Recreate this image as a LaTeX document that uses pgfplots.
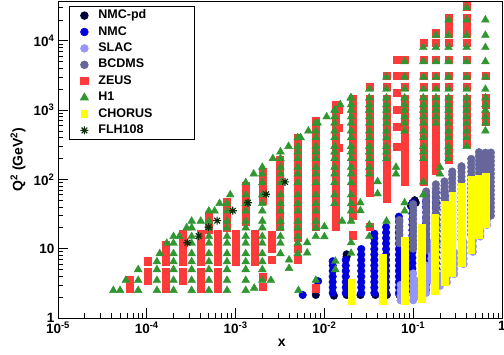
\documentclass[border=0pt]{standalone}
\usepackage{fontspec}
\setmainfont{Liberation Sans}
\usepackage{pgfplots}
\pgfplotsset{compat=1.18}
\definecolor{nmcpd}{RGB}{0,0,60}
\definecolor{nmc}{RGB}{0,0,220}
\definecolor{slac}{RGB}{150,150,250}
\definecolor{bcdms}{RGB}{102,102,155}
\definecolor{zeus}{RGB}{255,58,58}
\definecolor{hone}{RGB}{48,150,48}
\definecolor{chorus}{RGB}{255,255,0}
\definecolor{flh}{RGB}{10,45,10}
\pgfdeclareplotmark{star8}{%
 \pgfpathmoveto{\pgfqpoint{-\pgfplotmarksize}{0pt}}\pgfpathlineto{\pgfqpoint{\pgfplotmarksize}{0pt}}%
 \pgfpathmoveto{\pgfqpoint{0pt}{-\pgfplotmarksize}}\pgfpathlineto{\pgfqpoint{0pt}{\pgfplotmarksize}}%
 \pgfpathmoveto{\pgfqpoint{-0.707\pgfplotmarksize}{-0.707\pgfplotmarksize}}\pgfpathlineto{\pgfqpoint{0.707\pgfplotmarksize}{0.707\pgfplotmarksize}}%
 \pgfpathmoveto{\pgfqpoint{-0.707\pgfplotmarksize}{0.707\pgfplotmarksize}}\pgfpathlineto{\pgfqpoint{0.707\pgfplotmarksize}{-0.707\pgfplotmarksize}}%
 \pgfusepathqstroke}
\begin{document}
\begin{tikzpicture}
\begin{axis}[
 scale only axis, width=444bp, height=317bp,
 xmode=log, ymode=log,
 xmin=1e-5, xmax=1, ymin=1, ymax=37500,
 axis line style={line width=0.8bp},
 every tick/.style={black, line width=0.8bp},
 tick align=inside, tick pos=left,
 major tick length=10bp, minor tick length=5bp,
 xtick={1e-5,1e-4,1e-3,1e-2,1e-1,1},
 xticklabels={10\textsuperscript{-5},10\textsuperscript{-4},10\textsuperscript{-3},10\textsuperscript{-2},10\textsuperscript{-1},1},
 minor xtick={2e-5,3e-5,4e-5,5e-5,6e-5,7e-5,8e-5,9e-5,2e-4,3e-4,4e-4,5e-4,6e-4,7e-4,8e-4,9e-4,2e-3,3e-3,4e-3,5e-3,6e-3,7e-3,8e-3,9e-3,0.02,0.03,0.04,0.05,0.06,0.07,0.08,0.09,0.2,0.3,0.4,0.5,0.6,0.7,0.8,0.9},
 ytick={1,10,100,1000,10000},
 yticklabels={1,10,10\textsuperscript{2},10\textsuperscript{3},10\textsuperscript{4}},
 minor ytick={2,3,4,5,6,7,8,9,20,30,40,50,60,70,80,90,200,300,400,500,600,700,800,900,2000,3000,4000,5000,6000,7000,8000,9000,20000,30000},
 ticklabel style={font=\bfseries\fontsize{13.5bp}{15bp}\selectfont},
 xlabel={x}, ylabel={Q\textsuperscript{2} (GeV\textsuperscript{2})},
 label style={font=\bfseries\fontsize{14bp}{16bp}\selectfont},
 xlabel style={at={(axis description cs:0.504,-0.079)}, anchor=center},
 ylabel style={at={(axis description cs:-0.09,0.5)}, anchor=center},
 legend cell align=left,
 legend style={at={(rel axis cs:0.0248,0.9842)}, anchor=north west,
   draw=black, line width=0.8bp, fill=white,
   inner xsep=0bp, inner ysep=1bp, row sep=0bp, column sep=0bp,
   nodes={inner sep=2bp, text height=9.2bp, text depth=3.2bp},
   font=\bfseries\fontsize{12.5bp}{14bp}\selectfont},
 legend image code/.code={\path[draw=none,fill=none] (-15bp,0bp) (12bp,0bp); \draw[#1] plot[only marks] coordinates {(0bp,0bp)};},
]
% NMC-pd
\addplot[only marks, mark=*, color=nmcpd, mark size=3.8bp] coordinates {
(0.008,2.15)(0.008,2.45)(0.008,2.8)(0.0128,2.1)(0.0178,2.15)(0.0178,7.7)(0.0178,8.3)
(0.0255,2.15)(0.0375,2.15)(0.0505,2.15)(0.07,2.15)(0.104,50)(0.094,42)(0.107,46)
};
\addlegendentry{\makebox[94bp][l]{NMC-pd}}
% NMC
\addplot[only marks, mark=*, color=nmc, mark size=3.8bp] coordinates {
(0.0057,2.15)(0.0085,3.4)
(0.0124,2.3)(0.0124,2.76)(0.0124,3.31)(0.0124,3.97)(0.0124,4.77)(0.0124,5.72)(0.0124,6.6)
(0.0174,2.3)(0.0174,2.76)(0.0174,3.31)(0.0174,3.97)(0.0174,4.77)(0.0174,5.72)(0.0174,6.87)
(0.026,2.3)(0.026,2.76)(0.026,3.31)(0.026,3.97)(0.026,4.77)(0.026,5.72)(0.026,6.87)(0.026,8.24)(0.026,9.9)
(0.0365,2.3)(0.0365,2.76)(0.0365,3.31)(0.0365,3.97)(0.0365,4.77)(0.0365,5.72)(0.0365,6.87)(0.0365,8.24)(0.0365,9.89)(0.0365,11.9)(0.0365,14.2)(0.0365,16.5)
(0.0495,2.3)(0.0495,2.76)(0.0495,3.31)(0.0495,3.97)(0.0495,4.77)(0.0495,5.72)(0.0495,6.87)(0.0495,8.24)(0.0495,9.89)(0.0495,11.9)(0.0495,14.2)(0.0495,17.1)(0.0495,20.5)
(0.069,2.3)(0.069,2.76)(0.069,3.31)(0.069,3.97)(0.069,4.77)(0.069,5.72)(0.069,6.87)(0.069,8.24)(0.069,9.89)(0.069,11.9)(0.069,14.2)(0.069,17.1)(0.069,20.5)(0.069,24.6)(0.069,29)
(0.098,2.5)(0.098,3)(0.098,3.6)(0.098,4.3)(0.098,5.2)(0.098,6.2)(0.098,7.4)(0.098,8.9)(0.098,10.7)(0.098,12.8)(0.098,15.4)(0.098,18.5)(0.098,22.2)(0.098,26.6)(0.098,32)(0.098,38.4)(0.098,46)
(0.14,2.6)(0.14,3.1)(0.14,3.75)(0.14,4.5)(0.14,5.4)(0.14,6.5)(0.14,7.8)(0.14,9.3)(0.14,11.2)(0.14,13.4)(0.14,16.1)(0.14,19.4)(0.14,23.2)(0.14,27.9)(0.14,33.4)(0.14,40)(0.14,48)(0.14,58)
(0.18,3)(0.18,3.6)(0.18,4.3)(0.18,5.2)(0.18,6.2)(0.18,7.5)(0.18,9)(0.18,10.7)(0.18,12.9)(0.18,15.5)(0.18,18.6)(0.18,22.3)(0.18,26.8)(0.18,32)(0.18,38.5)(0.18,46)(0.18,55)(0.18,65)
(0.225,3.5)(0.225,4.2)(0.225,5)(0.225,6)(0.225,7.2)(0.225,8.7)(0.225,10.4)(0.225,12.5)(0.225,15)(0.225,18)(0.225,21.6)(0.225,26)(0.225,31)(0.225,37)(0.225,45)(0.225,54)(0.225,65)
(0.275,4.5)(0.275,5.4)(0.275,6.5)(0.275,7.8)(0.275,9.3)(0.275,11.2)(0.275,13.4)(0.275,16.1)(0.275,19.4)(0.275,23.2)(0.275,27.9)(0.275,33.4)(0.275,40)(0.275,48)(0.275,58)
};
\addlegendentry{NMC}
% SLAC
\addplot[only marks, mark=*, color=slac, mark size=3.8bp] coordinates {
(0.072,1.8)(0.072,2.1)(0.072,2.5)(0.072,3.0)(0.078,1.9)(0.078,2.3)(0.078,2.8)
(0.1,1.8)(0.1,2.15)(0.1,2.6)(0.1,3.1)(0.1,3.7)(0.1,4.4)(0.104,2)(0.104,2.4)(0.104,2.9)(0.104,3.5)
(0.14,2.3)(0.14,2.75)(0.14,3.3)(0.14,4)(0.14,4.8)(0.14,5.7)
(0.16,3.5)(0.16,4.2)(0.16,5)(0.16,6)(0.16,7.2)(0.16,8.6)(0.16,10.3)(0.16,12)
(0.2,2.9)(0.2,3.4)(0.2,4.1)(0.24,3.3)(0.24,3.9)(0.24,4.7)(0.24,5.6)
(0.29,4.3)(0.29,5.1)(0.29,6.1)(0.29,7.3)(0.29,8.8)
(0.37,6)(0.37,7.2)(0.37,8.6)(0.37,10.3)(0.37,12.4)
(0.47,9)(0.47,10.8)(0.47,13)(0.47,15.5)(0.57,15)(0.57,18)(0.57,21.5)(0.68,22)(0.68,26)(0.68,31)
};
\addlegendentry{SLAC}
% BCDMS
\addplot[only marks, mark=*, color=bcdms, mark size=3.8bp] coordinates {
(0.07,12)(0.07,13.8)(0.07,15.9)(0.07,18.3)(0.07,21)(0.07,24.2)(0.07,26)
(0.1,10)(0.1,11.5)(0.1,13.2)(0.1,15.2)(0.1,17.5)(0.1,20.1)(0.1,23.1)(0.1,26.6)(0.1,30.6)(0.1,35.2)(0.1,40.5)(0.1,44)
(0.14,9.5)(0.14,10.9)(0.14,12.6)(0.14,14.4)(0.14,16.6)(0.14,19.1)(0.14,22)(0.14,25.3)(0.14,29)(0.14,33.4)(0.14,38.4)(0.14,44.2)(0.14,50.8)(0.14,58.4)(0.14,67)
(0.18,10.5)(0.18,12.1)(0.18,13.9)(0.18,16)(0.18,18.4)(0.18,21.1)(0.18,24.3)(0.18,27.9)(0.18,32.1)(0.18,36.9)(0.18,42.5)(0.18,48.8)(0.18,56.2)(0.18,64.6)(0.18,74.3)(0.18,85)
(0.225,11.5)(0.225,13.2)(0.225,15.2)(0.225,17.5)(0.225,20.1)(0.225,23.1)(0.225,26.6)(0.225,30.6)(0.225,35.2)(0.225,40.5)(0.225,46.5)(0.225,53.5)(0.225,61.5)(0.225,70.8)(0.225,81.4)(0.225,93.6)
(0.275,12.5)(0.275,14.4)(0.275,16.5)(0.275,19)(0.275,21.9)(0.275,25.2)(0.275,28.9)(0.275,33.3)(0.275,38.3)(0.275,44)(0.275,50.6)(0.275,58.2)(0.275,66.9)(0.275,77)(0.275,88.5)(0.275,101.8)(0.275,117)(0.275,130)
(0.35,13.5)(0.35,15.5)(0.35,17.9)(0.35,20.5)(0.35,23.6)(0.35,27.2)(0.35,31.2)(0.35,35.9)(0.35,41.3)(0.35,47.5)(0.35,54.6)(0.35,62.8)(0.35,72.2)(0.35,83)(0.35,95.5)(0.35,109.8)(0.35,126.3)(0.35,145)(0.35,155)
(0.45,16)(0.45,18.4)(0.45,21.2)(0.45,24.3)(0.45,28)(0.45,32.2)(0.45,37)(0.45,42.6)(0.45,49)(0.45,56.3)(0.45,64.7)(0.45,74.4)(0.45,85.6)(0.45,98.4)(0.45,113)(0.45,130)(0.45,150)(0.45,172)(0.45,198)
(0.55,20)(0.55,23)(0.55,26.5)(0.55,30.4)(0.55,35)(0.55,40.2)(0.55,46.3)(0.55,53.2)(0.55,61.2)(0.55,70.4)(0.55,81)(0.55,93)(0.55,107)(0.55,123)(0.55,141.6)(0.55,162.8)(0.55,187)(0.55,215)(0.55,247)
(0.65,26)(0.65,30)(0.65,34.4)(0.65,39.5)(0.65,45.5)(0.65,52.3)(0.65,60.1)(0.65,69.2)(0.65,79.5)(0.65,91.5)(0.65,105)(0.65,121)(0.65,139)(0.65,160)(0.65,184)(0.65,211)(0.65,243)
(0.75,30)(0.75,34.5)(0.75,39.7)(0.75,45.6)(0.75,52.5)(0.75,60.3)(0.75,69.4)(0.75,79.8)(0.75,91.8)(0.75,105.5)(0.75,121)(0.75,139.6)(0.75,160.5)(0.75,184.6)(0.75,212)(0.75,244)
};
\addlegendentry{BCDMS}
% ZEUS
\addplot[only marks, mark=square*, color=zeus, mark size=3.6bp] coordinates {
(6.4e-5,2.7)(6.4e-5,3.5)
(1.03e-4,3.5)(1.03e-4,4.65)(1.03e-4,6.6)
(1.63e-4,2.7)(1.63e-4,3.5)(1.63e-4,4.65)(1.63e-4,6.6)(1.63e-4,8)(1.63e-4,8.8)(1.63e-4,9.6)(1.63e-4,10.5)(1.63e-4,11.3)
(2.52e-4,3.5)(2.52e-4,4.65)(2.52e-4,6.5)(2.52e-4,7.3)(2.52e-4,8.2)(2.52e-4,9.2)(2.52e-4,10.3)(2.52e-4,11.5)(2.52e-4,12.9)(2.52e-4,14.5)(2.52e-4,16.3)
(4.04e-4,2.7)(4.04e-4,3.5)(4.04e-4,4.65)(4.04e-4,6.5)(4.04e-4,7.3)(4.04e-4,8.2)(4.04e-4,9.2)(4.04e-4,10.3)(4.04e-4,11.5)(4.04e-4,12.9)(4.04e-4,14.5)(4.04e-4,16.3)
(5e-4,18.6)(5e-4,21)(5e-4,24)(5e-4,27)(5e-4,30)
(6.3e-4,2.7)(6.3e-4,3.5)(6.3e-4,4.65)(6.3e-4,6.5)(6.3e-4,7.3)(6.3e-4,8.2)(6.3e-4,9.2)(6.3e-4,10.3)(6.3e-4,11.5)(6.3e-4,12.9)(6.3e-4,14.5)(6.3e-4,16.3)
(8e-4,20)(8e-4,22.5)(8e-4,25)(8e-4,28)(8e-4,32)(8e-4,36)(8e-4,40)(8e-4,45)(8e-4,48)
(1e-3,6.5)(1e-3,7.3)(1e-3,8.2)(1e-3,9.2)(1e-3,10.3)(1e-3,11.5)(1e-3,12.9)(1e-3,14.5)(1e-3,16.3)
(1.31e-3,25)(1.31e-3,28)(1.31e-3,32)(1.31e-3,36)(1.31e-3,40)(1.31e-3,45)(1.31e-3,51)(1.31e-3,57)(1.31e-3,64)(1.31e-3,72)(1.31e-3,81)
(1.63e-3,6.5)(1.63e-3,7.3)(1.63e-3,8.2)(1.63e-3,9.2)(1.63e-3,10.3)(1.63e-3,11.5)(1.63e-3,12.9)(1.63e-3,14.5)(1.63e-3,16.3)
(2.03e-3,2.8)(2.03e-3,3.9)(2.03e-3,50)(2.03e-3,56)(2.03e-3,63)(2.03e-3,71)(2.03e-3,80)(2.03e-3,90)(2.03e-3,100)(2.03e-3,113)(2.03e-3,127)
(2.53e-3,6.9)(2.53e-3,10)(2.53e-3,11.3)(2.53e-3,12.7)(2.53e-3,14.2)(2.53e-3,16)
(3.17e-3,21)(3.17e-3,25)(3.17e-3,30)(3.17e-3,36)(3.17e-3,44)(3.17e-3,53)(3.17e-3,64)(3.17e-3,77)(3.17e-3,92)(3.17e-3,110)(3.17e-3,133)(3.17e-3,160)(3.17e-3,192)
(5e-3,7)(5e-3,10)(5e-3,14.5)(5e-3,17.5)(5e-3,21)(5e-3,25)(5e-3,30)(5e-3,36)(5e-3,44)(5e-3,53)(5e-3,64)(5e-3,77)(5e-3,92)(5e-3,110)(5e-3,133)(5e-3,160)(5e-3,192)(5e-3,230)(5e-3,276)(5e-3,330)(5e-3,400)
(8e-3,2.7)(8e-3,21)(8e-3,25)(8e-3,30)(8e-3,36)(8e-3,44)(8e-3,53)(8e-3,64)(8e-3,77)(8e-3,92)(8e-3,110)(8e-3,133)(8e-3,160)(8e-3,192)(8e-3,230)(8e-3,276)(8e-3,330)(8e-3,400)(8e-3,480)(8e-3,575)(8e-3,690)
(0.0133,21)(0.0133,25)(0.0133,30)(0.0133,36)(0.0133,44)(0.0133,53)(0.0133,64)(0.0133,77)(0.0133,92)(0.0133,110)(0.0133,133)(0.0133,160)(0.0133,192)(0.0133,230)(0.0133,276)(0.0133,330)(0.0133,400)(0.0133,480)(0.0133,575)(0.0133,690)(0.0133,830)(0.0133,1000)(0.0133,1200)
(0.0145,290)(0.0145,550)(0.0145,1000)
(0.0208,15.7)(0.0208,30)(0.0208,36)(0.0208,44)(0.0208,53)(0.0208,64)(0.0208,77)(0.0208,92)(0.0208,110)(0.0208,133)(0.0208,160)(0.0208,192)(0.0208,230)(0.0208,276)(0.0208,330)(0.0208,400)(0.0208,480)(0.0208,575)(0.0208,690)(0.0208,830)(0.0208,1000)(0.0208,1200)(0.0208,1450)
(0.0326,21)(0.0326,64)(0.0326,77)(0.0326,92)(0.0326,110)(0.0326,133)(0.0326,160)(0.0326,192)(0.0326,230)(0.0326,276)(0.0326,330)(0.0326,400)(0.0326,480)(0.0326,575)(0.0326,690)(0.0326,830)(0.0326,1000)(0.0326,1200)(0.0326,1450)(0.0326,2200)
(0.0506,53)(0.0506,64)(0.0506,77)(0.0506,92)(0.0506,110)(0.0506,133)(0.0506,160)(0.0506,192)(0.0506,230)(0.0506,276)(0.0506,330)(0.0506,400)(0.0506,480)(0.0506,575)(0.0506,690)(0.0506,830)(0.0506,1000)(0.0506,1200)(0.0506,1450)(0.0506,2200)(0.0506,3100)
(0.065,300)(0.065,575)(0.065,1000)(0.065,1800)(0.065,3100)(0.065,5300)
(0.08,92)(0.08,110)(0.08,133)(0.08,160)(0.08,192)(0.08,230)(0.08,276)(0.08,330)(0.08,400)(0.08,480)(0.08,575)(0.08,690)(0.08,830)(0.08,1000)(0.08,1200)(0.08,1450)(0.08,2200)(0.08,3100)(0.08,5300)
(0.13,92)(0.13,110)(0.13,133)(0.13,160)(0.13,192)(0.13,230)(0.13,276)(0.13,330)(0.13,400)(0.13,480)(0.13,575)(0.13,690)(0.13,830)(0.13,1000)(0.13,1200)(0.13,1450)(0.13,2200)(0.13,3100)(0.13,5300)(0.13,9300)
(0.18,133)(0.18,160)(0.18,192)(0.18,230)(0.18,276)(0.18,330)(0.18,400)(0.18,480)(0.18,575)(0.18,690)(0.18,830)(0.18,1000)(0.18,1200)(0.18,1450)(0.18,2200)(0.18,3100)(0.18,5300)(0.18,9300)(0.18,12900)
(0.25,192)(0.25,230)(0.25,276)(0.25,330)(0.25,400)(0.25,480)(0.25,575)(0.25,690)(0.25,830)(0.25,1000)(0.25,1200)(0.25,1450)(0.25,2200)(0.25,3100)(0.25,5300)(0.25,9300)(0.25,12900)(0.25,17000)(0.25,21700)
(0.4,330)(0.4,400)(0.4,480)(0.4,575)(0.4,690)(0.4,830)(0.4,1000)(0.4,1200)(0.4,1450)(0.4,2200)(0.4,3100)(0.4,5300)(0.4,9300)(0.4,12900)(0.4,17000)(0.4,21700)(0.4,31600)
(0.65,690)(0.65,830)(0.65,1200)(0.65,1500)(0.65,3100)
};
\addlegendentry{ZEUS}
% H1
\addplot[only marks, mark=triangle*, color=hone, mark size=4.5bp] coordinates {
(5e-5,2.5)
(8e-5,2.5)(8e-5,3.5)(8e-5,5)
(1.3e-4,2.5)(1.3e-4,3.5)(1.3e-4,5)(1.3e-4,6.5)
(2e-4,2.5)(2e-4,3.5)(2e-4,5)(2e-4,6.5)(2e-4,8.5)(2e-4,12)(2e-4,15)
(3.2e-4,2.5)(3.2e-4,3.5)(3.2e-4,5)(3.2e-4,6.5)(3.2e-4,8.5)(3.2e-4,12)(3.2e-4,15)(3.2e-4,20)(3.2e-4,25)
(5e-4,2.5)(5e-4,3.5)(5e-4,5)(5e-4,6.5)(5e-4,8.5)(5e-4,12)(5e-4,15)(5e-4,20)(5e-4,25)(5e-4,35)
(8e-4,2.5)(8e-4,3.5)(8e-4,5)(8e-4,6.5)(8e-4,8.5)(8e-4,12)(8e-4,15)(8e-4,20)(8e-4,25)(8e-4,35)(8e-4,45)
(1.3e-3,2.5)(1.3e-3,3.5)(1.3e-3,5)(1.3e-3,6.5)(1.3e-3,8.5)(1.3e-3,12)(1.3e-3,15)(1.3e-3,20)(1.3e-3,25)(1.3e-3,35)(1.3e-3,45)(1.3e-3,60)(1.3e-3,90)
(2e-3,3.5)(2e-3,5)(2e-3,6.5)(2e-3,8.5)(2e-3,12)(2e-3,15)(2e-3,20)(2e-3,25)(2e-3,35)(2e-3,45)(2e-3,60)(2e-3,90)(2e-3,120)(2e-3,150)
(3.2e-3,8.5)(3.2e-3,12)(3.2e-3,15)(3.2e-3,20)(3.2e-3,25)(3.2e-3,35)(3.2e-3,45)(3.2e-3,60)(3.2e-3,90)(3.2e-3,120)(3.2e-3,150)(3.2e-3,200)(3.2e-3,250)
(5e-3,8.5)(5e-3,12)(5e-3,15)(5e-3,20)(5e-3,25)(5e-3,35)(5e-3,45)(5e-3,60)(5e-3,90)(5e-3,120)(5e-3,150)(5e-3,200)(5e-3,250)(5e-3,300)(5e-3,400)
(8e-3,15)(8e-3,20)(8e-3,25)(8e-3,35)(8e-3,45)(8e-3,60)(8e-3,90)(8e-3,120)(8e-3,150)(8e-3,200)(8e-3,250)(8e-3,300)(8e-3,400)(8e-3,500)(8e-3,650)
(0.013,45)(0.013,60)(0.013,90)(0.013,120)(0.013,150)(0.013,200)(0.013,250)(0.013,300)(0.013,400)(0.013,500)(0.013,650)(0.013,800)(0.013,1000)
(0.02,25)(0.02,35)(0.02,45)(0.02,60)(0.02,90)(0.02,120)(0.02,150)(0.02,200)(0.02,250)(0.02,300)(0.02,400)(0.02,500)(0.02,650)(0.02,800)(0.02,1000)(0.02,1200)(0.02,1500)
(0.032,120)(0.032,150)(0.032,200)(0.032,250)(0.032,300)(0.032,400)(0.032,500)(0.032,650)(0.032,800)(0.032,1000)(0.032,1200)(0.032,1500)(0.032,2000)
(0.05,200)(0.05,250)(0.05,300)(0.05,400)(0.05,500)(0.05,650)(0.05,800)(0.05,1000)(0.05,1200)(0.05,1500)(0.05,2000)(0.05,3000)
(0.08,500)(0.08,650)(0.08,800)(0.08,1000)(0.08,1200)(0.08,1500)(0.08,2000)(0.08,3000)(0.08,5000)
(0.13,200)(0.13,250)(0.13,300)(0.13,400)(0.13,500)(0.13,650)(0.13,800)(0.13,1000)(0.13,1200)(0.13,1500)(0.13,2000)(0.13,3000)(0.13,5000)(0.13,8000)
(0.18,650)(0.18,800)(0.18,1000)(0.18,1200)(0.18,1500)(0.18,2000)(0.18,3000)(0.18,5000)(0.18,8000)(0.18,12000)
(0.25,200)(0.25,250)(0.25,300)(0.25,400)(0.25,500)(0.25,650)(0.25,800)(0.25,1000)(0.25,1200)(0.25,1500)(0.25,2000)(0.25,3000)(0.25,5000)(0.25,8000)(0.25,12000)(0.25,20000)
(0.4,300)(0.4,400)(0.4,500)(0.4,650)(0.4,800)(0.4,1000)(0.4,1200)(0.4,1500)(0.4,2000)(0.4,3000)(0.4,5000)(0.4,8000)(0.4,12000)(0.4,20000)(0.4,30000)
(0.65,500)(0.65,650)(0.65,800)(0.65,1000)(0.65,1200)(0.65,1500)(0.65,2000)(0.65,3000)(0.65,5000)(0.65,8000)(0.65,12000)(0.65,20000)
(4.2e-5,2.5)(5.8e-5,3.5)(1.4e-4,8.5)(1.68e-4,12)(2.32e-4,15)(2.81e-4,20)(4.05e-4,25)(5.8e-4,35)(6.6e-4,45)(8.7e-4,60)
(1.6e-3,120)(2.63e-3,200)(3.95e-3,300)(5.4e-3,400)(6.6e-3,500)(8.4e-3,650)(1.06e-2,800)(1.32e-2,1000)(1.51e-2,1200)(1.98e-2,1500)
(1.62e-3,2.7)(2.5e-3,3.5)(4e-3,6.9)(4e-3,5.2)(5.1e-3,2.5)(6.4e-3,12.2)(6.4e-3,8.7)(8e-3,3.5)(0.01,20.8)(0.01,14.9)
(0.0133,6.6)(0.0133,5.0)(0.0158,25)(0.02,12.2)(0.02,8.6)(0.0254,46)(0.0254,35.5)(0.032,22)(0.032,15)(0.0397,62)(0.0397,93)
(0.05,25)(0.064,150)(0.064,120)(0.08,46)(0.08,35)(0.13,60)(0.13,92)(0.2,150)(0.2,120)
};
\addlegendentry{H1}
% CHORUS
\addplot[only marks, mark=square*, color=chorus, mark size=3.4bp] coordinates {
(0.02,1.8)(0.02,2.1)(0.02,2.5)(0.02,2.9)(0.02,3.2)
(0.045,1.8)(0.045,2.1)(0.045,2.5)(0.045,2.9)(0.045,3.4)(0.045,4.0)(0.045,4.7)(0.045,5.5)(0.045,6.5)(0.045,7.5)
(0.08,1.8)(0.08,2.1)(0.08,2.5)(0.08,2.9)(0.08,3.4)(0.08,4.0)(0.08,4.7)(0.08,5.5)(0.08,6.5)(0.08,7.5)(0.08,8.8)(0.08,10.3)(0.08,12.1)(0.08,13)
(0.125,1.9)(0.125,2.2)(0.125,2.6)(0.125,3.1)(0.125,3.6)(0.125,4.2)(0.125,5)(0.125,5.8)(0.125,6.8)(0.125,8)(0.125,9.4)(0.125,11)(0.125,13)(0.125,15.2)(0.125,17.8)(0.125,20)
(0.175,2.5)(0.175,2.9)(0.175,3.5)(0.175,4.1)(0.175,4.8)(0.175,5.6)(0.175,6.6)(0.175,7.7)(0.175,9.1)(0.175,10.7)(0.175,12.5)(0.175,14.7)(0.175,17.3)(0.175,20.3)(0.175,23.8)(0.175,28)
(0.225,3.3)(0.225,3.9)(0.225,4.5)(0.225,5.3)(0.225,6.3)(0.225,7.4)(0.225,8.6)(0.225,10.1)(0.225,11.9)(0.225,14)(0.225,16.4)(0.225,19.3)(0.225,22.6)(0.225,26.5)(0.225,31.2)(0.225,36.6)(0.225,43)
(0.275,4.5)(0.275,5.3)(0.275,6.2)(0.275,7.3)(0.275,8.6)(0.275,10.1)(0.275,11.8)(0.275,13.9)(0.275,16.3)(0.275,19.2)(0.275,22.5)(0.275,26.5)(0.275,31.1)(0.275,36.5)(0.275,42.9)(0.275,50.4)(0.275,59)
(0.35,6.2)(0.35,7.3)(0.35,8.6)(0.35,10)(0.35,11.8)(0.35,13.9)(0.35,16.3)(0.35,19.1)(0.35,22.5)(0.35,26.4)(0.35,31)(0.35,36.4)(0.35,42.8)(0.35,50.3)(0.35,59)(0.35,69.4)(0.35,78)
(0.45,9.6)(0.45,11.3)(0.45,13.2)(0.45,15.5)(0.45,18.3)(0.45,21.5)(0.45,25.2)(0.45,29.6)(0.45,34.8)(0.45,40.9)(0.45,48)(0.45,56.4)(0.45,66.3)(0.45,77.9)(0.45,91.5)(0.45,98)
(0.55,16)(0.55,18.8)(0.55,22.1)(0.55,26)(0.55,30.5)(0.55,35.8)(0.55,42.1)(0.55,49.4)(0.55,58.1)(0.55,68.2)(0.55,80.2)(0.55,94.2)(0.55,104)
(0.65,23)(0.65,27)(0.65,31.8)(0.65,37.3)(0.65,43.8)(0.65,51.5)(0.65,60.5)(0.65,71)(0.65,83.5)(0.65,98)(0.65,110)
};
\addlegendentry{CHORUS}
% FLH108
\addplot[only marks, mark=star8, color=flh, mark size=4bp, line width=1.1bp] coordinates {
(2.87e-4,12.2)(3.84e-4,15.2)(4.97e-4,20.4)(6.2e-4,25.4)(9.3e-4,35.3)(1.38e-3,46)(2.21e-3,61)(3.6e-3,92)
};
\addlegendentry{FLH108}
\end{axis}
\pgfresetboundingbox
\useasboundingbox (-58bp,-37bp) rectangle (446bp,318bp);
\end{tikzpicture}
\end{document}
